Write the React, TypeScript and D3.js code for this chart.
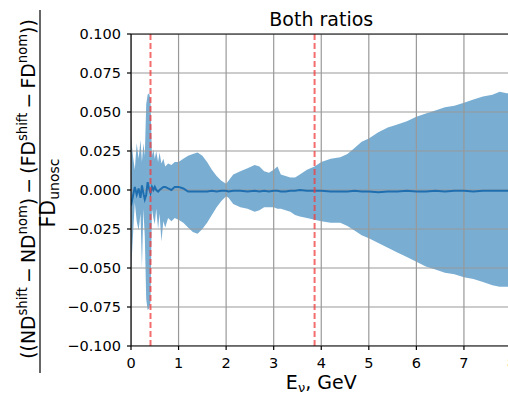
import * as d3 from 'd3'

// Energy bins (GeV) and band / mean values
const energy = [0, 0.04, 0.08, 0.12, 0.16, 0.2, 0.23, 0.26, 0.29, 0.32, 0.35, 0.38, 0.41, 0.44, 0.47, 0.5, 0.53, 0.57, 0.6, 0.64,
  0.68, 0.72, 0.78, 0.85, 0.92, 1.0, 1.1, 1.2, 1.3, 1.4, 1.5, 1.6, 1.7, 1.8, 1.9, 2.0, 2.05, 2.15, 2.3, 2.45,
  2.6, 2.7, 2.8, 2.9, 3.0, 3.08, 3.15, 3.25, 3.35, 3.45, 3.55, 3.7, 3.86, 4.0, 4.2, 4.4, 4.55, 4.7, 4.85, 5.0,
  5.2, 5.4, 5.6, 5.8, 6.0, 6.2, 6.4, 6.6, 6.8, 7.0, 7.2, 7.4, 7.6, 7.75, 7.9, 8.0]

const upper = [0.035, 0.022, 0.013, 0.030, 0.020, 0.032, 0.018, 0.030, 0.022, 0.055,
  0.061, 0.062, 0.058, 0.022, 0.026, 0.020, 0.025, 0.018, 0.024, 0.017,
  0.020, 0.015, 0.017, 0.016, 0.018, 0.018, 0.020, 0.022, 0.023, 0.024,
  0.022, 0.018, 0.013, 0.009, 0.006, 0.004, 0.006, 0.010, 0.012, 0.014,
  0.016, 0.015, 0.012, 0.011, 0.013, 0.015, 0.010, 0.009, 0.008, 0.008,
  0.010, 0.013, 0.015, 0.018, 0.020, 0.021, 0.023, 0.027, 0.031, 0.033,
  0.037, 0.040, 0.042, 0.044, 0.047, 0.049, 0.051, 0.053, 0.054, 0.056,
  0.058, 0.060, 0.061, 0.063, 0.062, 0.062]

const lower = [-0.053, -0.030, -0.008, -0.020, -0.026, -0.015, -0.050, -0.012, -0.030, -0.070,
  -0.077, -0.076, -0.072, -0.012, -0.018, -0.022, -0.012, -0.025, -0.015, -0.033,
  -0.020, -0.024, -0.018, -0.020, -0.018, -0.019, -0.021, -0.024, -0.027, -0.028,
  -0.025, -0.021, -0.016, -0.011, -0.007, -0.004, -0.005, -0.009, -0.011, -0.012,
  -0.014, -0.013, -0.011, -0.011, -0.011, -0.012, -0.012, -0.013, -0.014, -0.016,
  -0.017, -0.018, -0.019, -0.020, -0.021, -0.021, -0.023, -0.026, -0.029, -0.031,
  -0.034, -0.037, -0.040, -0.043, -0.046, -0.049, -0.051, -0.053, -0.054, -0.056,
  -0.057, -0.059, -0.061, -0.062, -0.062, -0.062]

const mean = [-0.010, -0.004, 0.002, -0.003, 0.001, -0.005, 0.003, -0.002, -0.006, -0.003,
  0.005, 0.001, -0.002, 0.002, 0.000, 0.002, 0.000, -0.001, 0.000, 0.001,
  0.002, 0.002, 0.001, 0.000, 0.002, 0.002, 0.001, -0.001, -0.001, -0.001,
  -0.001, -0.001, -0.0005, -0.001, -0.0005, -0.0005, -0.001, -0.0005, -0.0005, -0.001,
  -0.0005, -0.001, -0.0005, -0.001, -0.0005, -0.0005, -0.001, -0.001, -0.0005, -0.0005,
  0.0, -0.0005, -0.0005, -0.0005, -0.001, -0.001, -0.001, -0.0005, -0.001, -0.001,
  -0.0015, -0.001, -0.001, -0.0005, -0.001, -0.001, -0.0005, -0.001, -0.0005, -0.0005,
  -0.001, -0.0005, -0.0005, -0.0005, -0.0005, -0.0005]

const markers = [0.41, 3.86]
const xTicks = [0, 1, 2, 3, 4, 5, 6, 7, 8]
const yTicks = [-0.1, -0.075, -0.05, -0.025, 0, 0.025, 0.05, 0.075, 0.1]

const W = 508
const H = 395
const left = 131
const right = 511.5
const top = 34
const bottom = 346
const font = 'DejaVu Sans, sans-serif'

export default function App() {
  const x = d3.scaleLinear().domain([0, 8]).range([left, right])
  const y = d3.scaleLinear().domain([-0.1, 0.1]).range([bottom, top])

  const idx = energy.map((_, i) => i)
  const band = d3.area<number>()
    .x(i => x(energy[i]))
    .y0(i => y(lower[i]))
    .y1(i => y(upper[i]))(idx) || ''
  const line = d3.line<number>()
    .x(i => x(energy[i]))
    .y(i => y(mean[i]))(idx) || ''

  const fmt = (v: number) => d3.format('.3f')(v).replace('-', '\u2212')
  const sup = { dy: -8, fontSize: 13.2 }
  const gap = 4.2

  return (
    <svg width={W} height={H} style={{ position: 'fixed', left: 0, top: 0 }} fontFamily={font}>
      <defs>
        <clipPath id="plot">
          <rect x={left} y={top} width={right - left} height={bottom - top} />
        </clipPath>
      </defs>
      <rect width={W} height={H} fill="#fff" />
      <g clipPath="url(#plot)">
        <path d={band} fill="#1f77b4" fillOpacity={0.6} />
        {xTicks.map(t => (
          <line key={'gx' + t} x1={x(t)} x2={x(t)} y1={top} y2={bottom} stroke="#999" strokeWidth={1.2} />
        ))}
        {yTicks.map(t => (
          <line key={'gy' + t} x1={left} x2={right} y1={y(t)} y2={y(t)} stroke="#999" strokeWidth={1.2} />
        ))}
        <path d={line} fill="none" stroke="#1f6fb0" strokeWidth={2} />
        {markers.map(m => (
          <line key={'m' + m} x1={x(m)} x2={x(m)} y1={top} y2={bottom} stroke="#f03c3c" strokeOpacity={0.75}
            strokeWidth={2} strokeDasharray="6,3" />
        ))}
      </g>
      {/* spines */}
      <line x1={left} x2={left} y1={top} y2={bottom} stroke="#000" strokeWidth={1.2} />
      <line x1={left} x2={right} y1={bottom} y2={bottom} stroke="#000" strokeWidth={1.2} />
      <line x1={left} x2={right} y1={top} y2={top} stroke="#000" strokeWidth={1.2} />
      {/* y ticks */}
      {yTicks.map(t => (
        <g key={'yt' + t}>
          <line x1={left - 4} x2={left} y1={y(t)} y2={y(t)} stroke="#000" strokeWidth={1.2} />
          <text x={121} y={y(t) + 5.3} textAnchor="end" fontSize={14.5}>{fmt(t)}</text>
        </g>
      ))}
      {/* x ticks */}
      {xTicks.map(t => (
        <g key={'xt' + t}>
          <line x1={x(t)} x2={x(t)} y1={bottom} y2={bottom + 4} stroke="#000" strokeWidth={1.2} />
          <text x={x(t)} y={368} textAnchor="middle" fontSize={14.5}>{t}</text>
        </g>
      ))}
      <text x={(left + right) / 2} y={26} textAnchor="middle" fontSize={19}>Both ratios</text>
      <text x={(left + right) / 2} y={388.5} textAnchor="middle" fontSize={19}>
        E<tspan dy={3.5} fontSize={13}>ν</tspan><tspan dy={-3.5}>, GeV</tspan>
      </text>
      {/* y label as a fraction */}
      <g transform="translate(35,189) rotate(-90)">
        <text textAnchor="middle" fontSize={18.8}>
          ((ND<tspan {...sup}>shift</tspan><tspan dy={8} dx={gap}>−</tspan><tspan dx={gap}>ND</tspan>
          <tspan {...sup}>nom</tspan><tspan dy={8}>)</tspan><tspan dx={gap}>−</tspan><tspan dx={gap}>(FD</tspan>
          <tspan {...sup}>shift</tspan><tspan dy={8} dx={gap}>−</tspan><tspan dx={gap}>FD</tspan>
          <tspan {...sup}>nom</tspan><tspan dy={8}>))</tspan>
        </text>
      </g>
      <line x1={40} x2={40} y1={10} y2={373} stroke="#000" strokeWidth={1.2} />
      <g transform="translate(55,193) rotate(-90)">
        <text textAnchor="middle" fontSize={20.5}>
          FD<tspan dy={4} fontSize={14}>unosc</tspan>
        </text>
      </g>
    </svg>
  )
}
